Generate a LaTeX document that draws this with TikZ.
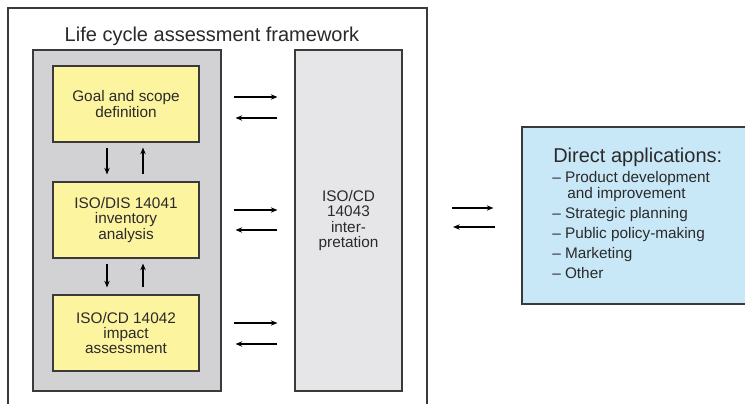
\documentclass[tikz,border=0pt]{standalone}
\usepackage{fontspec}
\setmainfont{Liberation Sans}
\usetikzlibrary{arrows.meta,calc}
\definecolor{framegrey}{HTML}{D2D2D4}
\definecolor{interpgrey}{HTML}{E6E6E8}
\definecolor{stageyellow}{HTML}{FDF4A0}
\definecolor{appblue}{HTML}{C8E8F8}
\definecolor{ink}{HTML}{2A2A2A}
\definecolor{edge}{HTML}{3A3A3A}
\begin{document}
\begin{tikzpicture}[x=0.75pt,y=-0.75pt,
  boxtext/.style={font=\fontsize{11.5}{11.6}\selectfont, text=ink, align=center},
  panel/.style={draw=edge, line width=0.8pt, inner sep=0pt},
  stage/.style={panel, fill=stageyellow, boxtext, minimum width=109.5pt, minimum height=57pt},
  flow/.style={draw=black, line width=0.8pt, -{Stealth[length=5pt,width=4pt]}},
  itemtext/.style={font=\fontsize{11.5}{12}\selectfont, text=ink, anchor=base west, inner sep=0pt}]
\useasboundingbox (0,0) rectangle (745,403);
\clip (0,0) rectangle (745,403);
\fill[white] (0,0) rectangle (745,403);

% outer frame of the framework (open towards the bottom edge)
\draw[edge, line width=0.8pt] (8,420) -- (8,8) -- (427,8) -- (427,420);
\coordinate (frameR) at (427,215.5);
\node[boxtext, font=\fontsize{15}{16}\selectfont, anchor=base] (title) at (212,41.5)
  {Life cycle assessment framework};

% grey column holding the three stages
\node[panel, fill=framegrey, minimum width=141pt, minimum height=255.75pt] (column) at (127,220.5) {};
\node[stage] (goal) at (126,104) {Goal and scope\\definition};
\node[stage] (inventory) at (126,220) {ISO/DIS 14041\\inventory\\analysis};
\node[stage] (impact) at (126,333) {ISO/CD 14042\\impact\\assessment};

% interpretation column
\node[panel, fill=interpgrey, boxtext, minimum width=80.25pt, minimum height=255.75pt] (interp) at (348.5,220.5)
  {ISO/CD\\14043\\inter-\\pretation};

% links between consecutive stages
\foreach \a/\b in {goal/inventory, inventory/impact}{
  \draw[flow] ($(\a.south)+(-19,5)$) -- ($(\b.north)+(-19,-7)$);
  \draw[flow] ($(\b.north)+(17,-7)$) -- ($(\a.south)+(17,5)$);
}

% links between each stage and the interpretation
\foreach \s/\u/\d in {goal/-7/14, inventory/-10/10, impact/-10/11}{
  \draw[flow] ($(column.east |- \s.center)+(12,\u)$) -- ($(interp.west |- \s.center)+(-17,\u)$);
  \draw[flow] ($(interp.west |- \s.center)+(-17,\d)$) -- ($(column.east |- \s.center)+(14,\d)$);
}

% direct applications
\node[panel, fill=appblue, minimum width=178.5pt, minimum height=132.75pt] (apps) at (641,215.5) {};
\draw[flow] ($(frameR)+(25,-7.5)$) -- ($(apps.west |- frameR)+(-28,-7.5)$);
\draw[flow] ($(apps.west |- frameR)+(-26,11.5)$) -- ($(frameR)+(26,11.5)$);

\node[itemtext, font=\fontsize{15}{16}\selectfont] (head) at (553,162) {Direct applications:};
\node[itemtext] (i1) at (552,182.5) {– Product development};
\node[itemtext] (i1b) at (567,198) {and improvement};
\node[itemtext] (i2) at (552,218) {– Strategic planning};
\node[itemtext] (i3) at (552,238) {– Public policy-making};
\node[itemtext] (i4) at (552,258) {– Marketing};
\node[itemtext] (i5) at (552,278) {– Other};
\end{tikzpicture}
\end{document}
